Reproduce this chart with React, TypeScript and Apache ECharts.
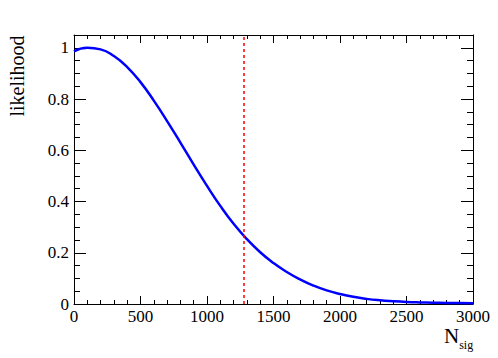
import React, { useEffect, useRef } from "react";
import * as echarts from "echarts";

const nsig = [0, 100, 200, 300, 400, 500, 600, 700, 800, 900, 1000, 1100, 1200, 1300, 1400, 1500, 1600, 1700, 1800, 1900, 2000, 2100, 2200, 2300, 2400, 2500, 2600, 2700, 2800, 2900, 3000];
const likelihood = [0.986, 1.0, 0.994, 0.968, 0.925, 0.866, 0.794, 0.714, 0.63, 0.544, 0.461, 0.383, 0.313, 0.253, 0.202, 0.16, 0.125, 0.096, 0.072, 0.053, 0.039, 0.028, 0.02, 0.0145, 0.0108, 0.008, 0.0062, 0.005, 0.0042, 0.0037, 0.0033];
const limitX = 1280;
const xTicks = { min: 0, max: 3000, interval: 500 };
const yTicks = { min: 0, max: 1.05, interval: 0.2 };

const FONT = "Liberation Serif";

export default function App() {
  const ref = useRef<HTMLDivElement>(null);
  useEffect(() => {
    if (!ref.current) return;
    const chart = echarts.init(ref.current, undefined, { renderer: "svg" });
    const axisLine = { show: true, onZero: false, lineStyle: { color: "#000", width: 1 } };
    const xCommon = {
      type: "value" as const,
      min: xTicks.min,
      max: xTicks.max,
      interval: xTicks.interval,
      axisLine,
      splitLine: { show: false },
      axisTick: { show: true, inside: true, length: 8, lineStyle: { color: "#000", width: 1 } },
      minorTick: { show: true, splitNumber: 5, length: 4, lineStyle: { color: "#000", width: 1 } },
      minorSplitLine: { show: false },
    };
    const yCommon = {
      type: "value" as const,
      min: yTicks.min,
      max: yTicks.max,
      interval: yTicks.interval,
      axisLine,
      splitLine: { show: false },
      axisTick: { show: true, inside: true, length: 12, lineStyle: { color: "#000", width: 1 } },
      minorTick: { show: true, splitNumber: 4, length: 6, lineStyle: { color: "#000", width: 1 } },
      minorSplitLine: { show: false },
    };
    chart.setOption({
      animation: false,
      backgroundColor: "#fff",
      textStyle: { fontFamily: FONT },
      grid: { left: 74, right: 25, top: 35, bottom: 54, containLabel: false },
      xAxis: [
        {
          ...xCommon,
          position: "bottom",
          axisLabel: {
            show: true,
            color: "#000",
            fontFamily: FONT,
            fontSize: 17,
            margin: 4,
            showMaxLabel: true,
            formatter: (v: number) => String(Math.round(v)),
          },
        },
        { ...xCommon, position: "top", axisLabel: { show: false } },
      ],
      yAxis: [
        {
          ...yCommon,
          position: "left",
          axisLabel: {
            show: true,
            color: "#000",
            fontFamily: FONT,
            fontSize: 17,
            margin: 5,
            showMaxLabel: false,
            formatter: (v: number) => String(Math.round(v * 10) / 10),
          },
        },
        { ...yCommon, position: "right", axisLabel: { show: false } },
      ],
      graphic: [
        {
          type: "text",
          x: 17,
          y: 76,
          rotation: Math.PI / 2,
          style: {
            text: "likelihood",
            fill: "#000",
            font: `20px '${FONT}'`,
            align: "center",
            verticalAlign: "middle",
          },
        },
        {
          type: "text",
          left: 444,
          top: 325,
          style: {
            text: "{n|N}{s|sig}",
            rich: {
              n: { fontFamily: FONT, fontSize: 21, fill: "#000", verticalAlign: "top" },
              s: { fontFamily: FONT, fontSize: 12, fill: "#000", padding: [14, 0, 0, 0] },
            },
          },
        },
      ],
      series: [
        {
          type: "line",
          xAxisIndex: 0,
          yAxisIndex: 0,
          data: nsig.map((x, i) => [x, likelihood[i]]),
          smooth: 0.5,
          showSymbol: false,
          symbol: "none",
          lineStyle: { color: "#0000ff", width: 2.5 },
          markLine: {
            silent: true,
            symbol: "none",
            label: { show: false },
            lineStyle: { color: "#ff0000", width: 1.5, type: [3, 3] },
            data: [{ xAxis: limitX }],
          },
        },
      ],
    });
    return () => chart.dispose();
  }, []);
  return <div ref={ref} style={{ width: 498, height: 358, position: "absolute", left: 0, top: 0 }} />;
}
